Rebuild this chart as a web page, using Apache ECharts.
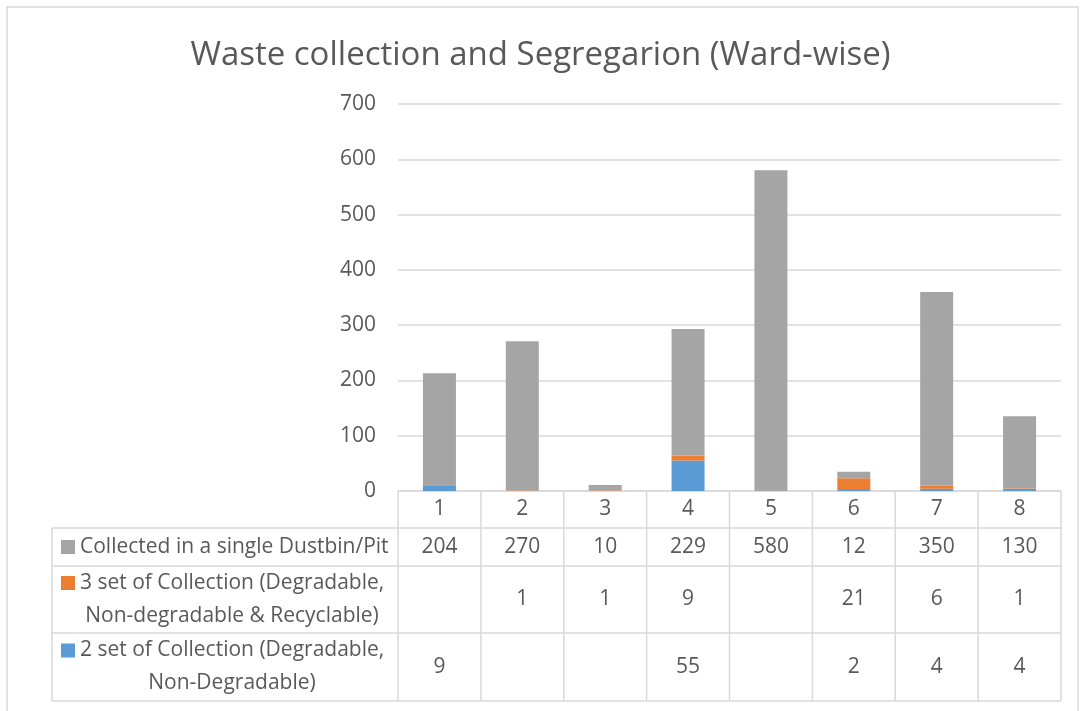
<!DOCTYPE html>
<html>
<head>
<meta charset="utf-8">
<script src="https://cdn.jsdelivr.net/npm/echarts@6/dist/echarts.min.js"></script>
<style>
    html, body {margin: 0; padding: 0; background: #fff;}
    #main {width: 1081px; height: 711px;}
</style>
</head>
<body>
<div id="main"></div>
<script>
// wards along the x axis
const wards = ['1', '2', '3', '4', '5', '6', '7', '8'];
// series, bottom of the stack first
const twoSet = [9, null, null, 55, null, 2, 4, 4];
const threeSet = [null, 1, 1, 9, null, 21, 6, 1];
const single = [204, 270, 10, 229, 580, 12, 350, 130];
const seriesNames = [
    'Collected in a single Dustbin/Pit',
    '3 set of Collection (Degradable,\nNon-degradable & Recyclable)',
    '2 set of Collection (Degradable,\nNon-Degradable)'
];
const colors = {single: '#a5a5a5', threeSet: '#ed7d31', twoSet: '#5b9bd5'};

const FONT = '"Open Sans", sans-serif';
const TXT = '#595959';
const LINE = '#d9d9d9';

const gridL = 398, gridR = 1061, gridT = 104, gridB = 491;
// table rows: header, then one row for each series (top to bottom)
const rowY = [491, 528, 566, 633, 701];
const tableLeft = 52;

const chart = echarts.init(document.getElementById('main'));

const option = {
    animation: false,
    title: {
        text: 'Waste collection and Segregarion (Ward-wise)',
        left: 'center', top: 34,
        textStyle: {fontFamily: FONT, fontSize: 33, fontWeight: 'normal', color: TXT}
    },
    grid: {left: gridL, right: 1081 - gridR, top: gridT, bottom: 711 - gridB},
    xAxis: {
        type: 'category', data: wards,
        axisLine: {lineStyle: {color: LINE, width: 1.5}},
        axisTick: {show: false},
        axisLabel: {show: false}
    },
    yAxis: {
        type: 'value', min: 0, max: 700, interval: 100,
        axisLine: {show: false}, axisTick: {show: false},
        axisLabel: {fontFamily: FONT, fontSize: 21, color: TXT, margin: 22},
        splitLine: {lineStyle: {color: LINE, width: 1.5}}
    },
    series: [
        {name: 'twoSet', type: 'bar', stack: 'a', data: twoSet, barWidth: 33, itemStyle: {color: colors.twoSet}},
        {name: 'threeSet', type: 'bar', stack: 'a', data: threeSet, barWidth: 33, itemStyle: {color: colors.threeSet}},
        {name: 'single', type: 'bar', stack: 'a', data: single, barWidth: 33, itemStyle: {color: colors.single}}
    ]
};
chart.setOption(option);

// data table under the plot
const g = [];
const line = (x1, y1, x2, y2) => g.push({
    type: 'line', shape: {x1, y1, x2, y2}, silent: true,
    style: {stroke: LINE, lineWidth: 1.5}
});
const txt = (x, y, text, align) => g.push({
    type: 'text', x, y, silent: true,
    style: {text, fill: TXT, font: '21px ' + FONT, align: align || 'center', verticalAlign: 'middle'}
});

// outer chart frame
g.push({type: 'rect', shape: {x: 7, y: 7, width: 1071, height: 710}, silent: true,
    style: {fill: 'none', stroke: LINE, lineWidth: 1.5}});

const half = (gridR - gridL) / wards.length / 2;
const edges = [gridL];
wards.forEach(w => {
    const c = chart.convertToPixel({xAxisIndex: 0}, w);
    edges.push(c + half);
    txt(c, (rowY[0] + rowY[1]) / 2, w);
});
edges.forEach(x => line(x, rowY[0], x, rowY[4]));
line(tableLeft, rowY[1], tableLeft, rowY[4]);
for (let r = 1; r <= 4; r++) line(tableLeft, rowY[r], gridR, rowY[r]);

const rows = [single, threeSet, twoSet];
const rowColors = [colors.single, colors.threeSet, colors.twoSet];
rows.forEach((vals, r) => {
    const yMid = (rowY[r + 1] + rowY[r + 2]) / 2;
    wards.forEach((w, i) => {
        if (vals[i] != null) txt(chart.convertToPixel({xAxisIndex: 0}, w), yMid, String(vals[i]));
    });
    const lines = seriesNames[r].split('\n');
    const keyY = lines.length === 1 ? yMid : yMid - 16.5;
    g.push({type: 'rect', shape: {x: 61, y: keyY - 7, width: 14, height: 14}, silent: true,
        style: {fill: rowColors[r]}});
    if (lines.length === 1) {
        txt(80, yMid, lines[0], 'left');
    } else {
        txt(80, yMid - 16.5, lines[0], 'left');
        txt(232, yMid + 16.5, lines[1], 'center');
    }
});

chart.setOption({graphic: g});
</script>
</body>
</html>
